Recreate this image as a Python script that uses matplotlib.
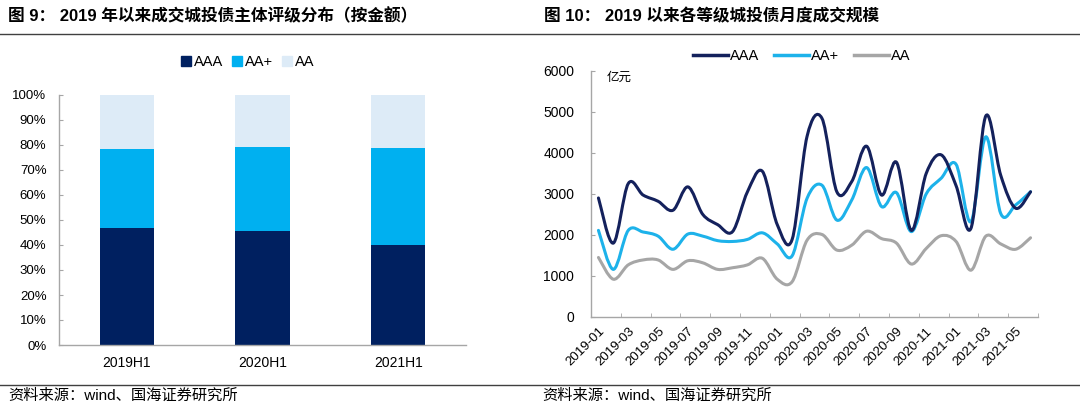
import numpy as np
import matplotlib
matplotlib.use("Agg")
import matplotlib.pyplot as plt
from matplotlib.path import Path
from matplotlib.patches import PathPatch, Patch
from matplotlib.lines import Line2D

plt.rcParams['font.family'] = ['Liberation Sans', 'Noto Sans CJK SC', 'DejaVu Sans']

# ---- data: left chart (share by amount) ----
halves = ['2019H1', '2020H1', '2021H1']
share_aaa = [46.8, 45.5, 40.0]
share_aap = [31.7, 33.8, 38.9]
share_aa = [21.5, 20.7, 21.1]

# ---- data: right chart (monthly volume, 亿元) ----
months = ['2019-01', '2019-02', '2019-03', '2019-04', '2019-05', '2019-06',
          '2019-07', '2019-08', '2019-09', '2019-10', '2019-11', '2019-12',
          '2020-01', '2020-02', '2020-03', '2020-04', '2020-05', '2020-06',
          '2020-07', '2020-08', '2020-09', '2020-10', '2020-11', '2020-12',
          '2021-01', '2021-02', '2021-03', '2021-04', '2021-05', '2021-06']
vol_aaa = [2900, 1800, 3250, 2970, 2820, 2600, 3170, 2500, 2250, 2080, 3050, 3550,
           2250, 1890, 4400, 4840, 3050, 3300, 4160, 2970, 3770, 2110, 3500, 3950,
           3200, 2160, 4900, 3450, 2650, 3050]
vol_aap = [2110, 1160, 2110, 2070, 1970, 1650, 2020, 1970, 1860, 1840, 1890, 2050,
           1780, 1490, 2890, 3210, 2360, 2850, 3640, 2690, 3030, 2080, 3000, 3380,
           3720, 2320, 4390, 2520, 2730, 3050]
vol_aa = [1450, 920, 1270, 1390, 1390, 1160, 1370, 1320, 1160, 1200, 1270, 1430,
          920, 860, 1870, 2010, 1630, 1750, 2090, 1910, 1800, 1290, 1670, 1980,
          1840, 1140, 1970, 1780, 1650, 1930]

c_aaa = '#002060'
c_aap = '#00B0F0'
c_aa = '#DDEBF7'
l_aaa = '#14215C'
l_aap = '#1DB2EA'
l_aa = '#A6A6A6'
axis_c = '#A6A6A6'


def smooth_path(xs, ys):
    # excel-like smoothed line: catmull-rom segments as bezier curves
    pts = np.column_stack([xs, ys]).astype(float)
    n = len(pts)
    verts = [pts[0]]
    codes = [Path.MOVETO]
    for i in range(n - 1):
        p0 = pts[max(i - 1, 0)]
        p1 = pts[i]
        p2 = pts[i + 1]
        p3 = pts[min(i + 2, n - 1)]
        c1 = p1 + (p2 - p0) / 6.0
        c2 = p2 - (p3 - p1) / 6.0
        verts += [c1, c2, p2]
        codes += [Path.CURVE4] * 3
    return Path(verts, codes)


fig = plt.figure(figsize=(10.8, 4.09), dpi=100)

# titles and rules
fig.text(8 / 1080, 1 - 16 / 409, '图 9： 2019 年以来成交城投债主体评级分布（按金额）',
         fontsize=12, fontweight='bold', va='center', ha='left')
fig.text(544 / 1080, 1 - 16 / 409, '图 10： 2019 以来各等级城投债月度成交规模',
         fontsize=12, fontweight='bold', va='center', ha='left')
fig.add_artist(Line2D([0, 1], [1 - 33.5 / 409] * 2, color='#404040', lw=1.0))
fig.add_artist(Line2D([0, 1], [1 - 385 / 409] * 2, color='#404040', lw=1.0))
fig.text(8 / 1080, 1 - 396 / 409, '资料来源：wind、国海证券研究所', fontsize=11,
         va='center', ha='left')
fig.text(542 / 1080, 1 - 396 / 409, '资料来源：wind、国海证券研究所', fontsize=11,
         va='center', ha='left')

# ---- left: stacked bars ----
ax1 = fig.add_axes([59 / 1080, 1 - 345 / 409, 407 / 1080, 250 / 409])
x = np.arange(len(halves))
bottom2 = np.array(share_aaa)
bottom3 = bottom2 + np.array(share_aap)
ax1.bar(x, share_aaa, 0.4, color=c_aaa, label='AAA')
ax1.bar(x, share_aap, 0.4, bottom=bottom2, color=c_aap, label='AA+')
ax1.bar(x, share_aa, 0.4, bottom=bottom3, color=c_aa, label='AA')
ax1.set_xlim(-0.5, 2.5)
ax1.set_ylim(0, 100)
ax1.set_yticks(np.arange(0, 101, 10))
ax1.set_yticklabels(['%d%%' % v for v in range(0, 101, 10)])
ax1.set_xticks(x)
ax1.set_xticklabels(halves)
ax1.tick_params(axis='y', direction='in', length=3, color=axis_c, labelsize=9.5, pad=9)
ax1.tick_params(axis='x', length=0, labelsize=10, pad=8)
for s in ['top', 'right']:
    ax1.spines[s].set_visible(False)
for s in ['left', 'bottom']:
    ax1.spines[s].set_color(axis_c)
    ax1.spines[s].set_linewidth(1.0)

fig.legend(handles=[Patch(color=c_aaa, label='AAA'), Patch(color=c_aap, label='AA+'),
                    Patch(color=c_aa, label='AA')],
           loc='center', bbox_to_anchor=(248 / 1080, 1 - 62 / 409), ncol=3,
           frameon=False, fontsize=10.5, handlelength=0.7, handleheight=0.7,
           handletextpad=0.2, columnspacing=0.6)

# ---- right: smoothed lines ----
ax2 = fig.add_axes([591 / 1080, 1 - 317 / 409, 447 / 1080, 246.3 / 409])
xm = np.arange(len(months))
for vals, col in [(vol_aa, l_aa), (vol_aap, l_aap), (vol_aaa, l_aaa)]:
    ax2.add_patch(PathPatch(smooth_path(xm, vals), fill=False, edgecolor=col,
                            lw=2.2, capstyle='round', joinstyle='round'))
ax2.set_xlim(-0.5, len(months) - 0.5)
ax2.set_ylim(0, 6000)
ax2.set_yticks(np.arange(0, 6001, 1000))
ax2.set_xticks(xm[::2])
ax2.set_xticklabels(months[::2], rotation=45, ha='right', rotation_mode='anchor')
ax2.set_xticks(np.arange(1.5, len(months), 2), minor=True)
ax2.tick_params(axis='x', which='major', length=0, labelsize=9.5, pad=6)
ax2.tick_params(axis='x', which='minor', direction='in', length=3, color=axis_c)
ax2.tick_params(axis='y', direction='in', length=3, color=axis_c, labelsize=10, pad=12)
for s in ['top', 'right']:
    ax2.spines[s].set_visible(False)
for s in ['left', 'bottom']:
    ax2.spines[s].set_color(axis_c)
    ax2.spines[s].set_linewidth(1.0)
ax2.text(16 / 447, 1 - 7.5 / 246.3, '亿元', transform=ax2.transAxes, fontsize=9,
         va='center', ha='left')

fig.legend(handles=[Line2D([], [], color=l_aaa, lw=2.5, label='AAA'),
                    Line2D([], [], color=l_aap, lw=2.5, label='AA+'),
                    Line2D([], [], color=l_aa, lw=2.5, label='AA')],
           loc='center', bbox_to_anchor=(802 / 1080, 1 - 56 / 409), ncol=3,
           frameon=False, fontsize=10.5, handlelength=2.4, handletextpad=0.15,
           columnspacing=1.0)

fig.savefig('out.png', dpi=100)
